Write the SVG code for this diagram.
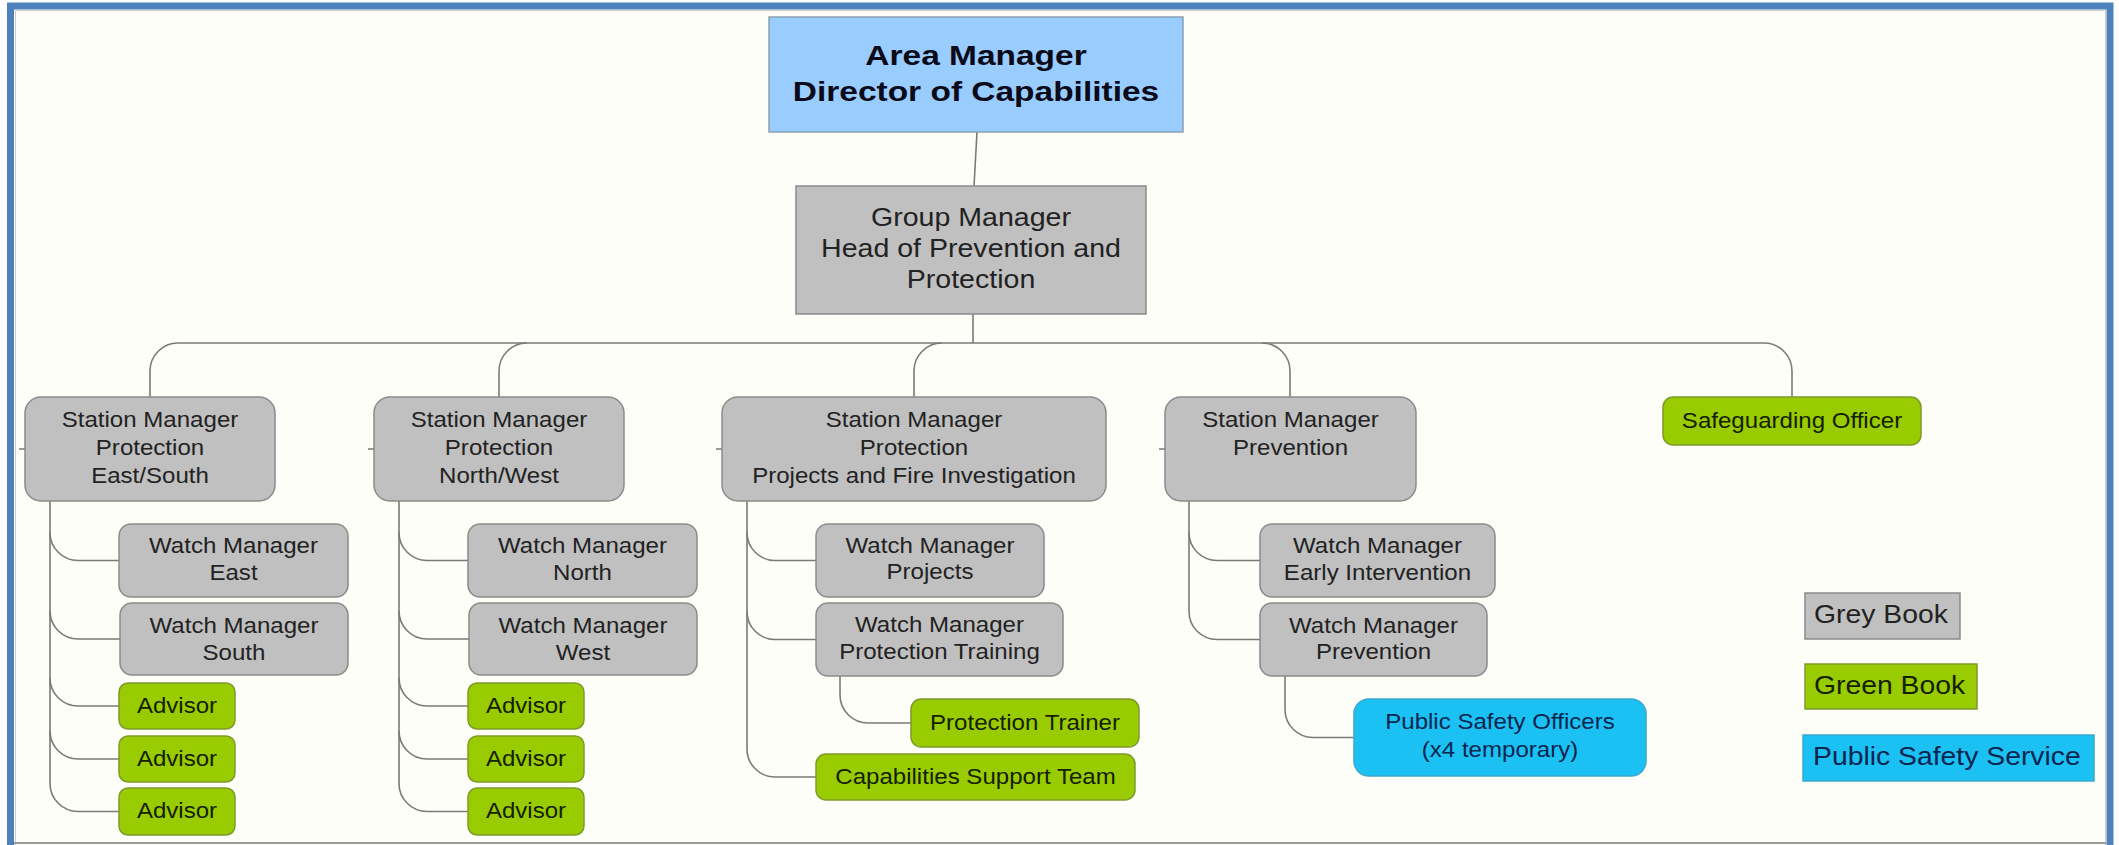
<svg xmlns="http://www.w3.org/2000/svg" width="2119" height="845" viewBox="0 0 2119 845">
<style>
.t{font-family:"Liberation Sans",Arial,sans-serif;font-size:21.5px;fill:#222;text-anchor:middle}
.g{fill:#c0c0c0;stroke:#8a8a8a;stroke-width:1.5}
.gr{fill:#99cc00;stroke:#7d9b2a;stroke-width:1.5}
.cy{fill:#1ac1f2;stroke:#3aa8d0;stroke-width:1.5}
.tg{fill:#142000}
.tc{fill:#0b2550}
.c{fill:none;stroke:#7a7a7a;stroke-width:1.6}
.big{font-size:25.5px}
.leg{font-size:25.3px;text-anchor:start}
.bold{font-weight:bold;font-size:28.5px;fill:#0a0a18}
</style>
<rect x="0" y="0" width="2119" height="845" fill="#ffffff"/>
<rect x="10" y="6" width="2100" height="860" fill="#fefef8"/>
<rect x="15.5" y="10.5" width="2090" height="850" fill="none" stroke="#cfcfcf" stroke-width="1"/>
<line x1="14" y1="843" x2="2106" y2="843" stroke="#9a9a9a" stroke-width="2"/>
<rect x="10.5" y="6" width="2099.5" height="870" fill="none" stroke="#4f81bd" stroke-width="7"/>

<g id="connectors" class="c">
<path d="M977 132 L974 186"/>
<path d="M973 314 V343"/>
<path d="M150 397 V371 A28 28 0 0 1 178 343 H1764 A28 28 0 0 1 1792 371 V397"/>
<path d="M499 397 V371 A28 28 0 0 1 527 343"/>
<path d="M914 397 V371 A28 28 0 0 1 942 343"/>
<path d="M1290 397 V371 A28 28 0 0 0 1262 343"/>
<path d="M19 449 H25 M368 449 H374 M716 449 H722 M1159 449 H1165"/>
<!-- column 1 -->
<path d="M50 501 V783.5 A28 28 0 0 0 78 811.5 H119"/>
<path d="M50 532.5 A28 28 0 0 0 78 560.5 H119"/>
<path d="M50 611 A28 28 0 0 0 78 639 H120"/>
<path d="M50 678 A28 28 0 0 0 78 706 H119"/>
<path d="M50 731 A28 28 0 0 0 78 759 H119"/>
<!-- column 2 -->
<path d="M399 501 V783.5 A28 28 0 0 0 427 811.5 H468"/>
<path d="M399 532.5 A28 28 0 0 0 427 560.5 H468"/>
<path d="M399 611 A28 28 0 0 0 427 639 H469"/>
<path d="M399 678 A28 28 0 0 0 427 706 H468"/>
<path d="M399 731 A28 28 0 0 0 427 759 H468"/>
<!-- column 3 -->
<path d="M747 501 V749 A28 28 0 0 0 775 777 H816"/>
<path d="M747 532.5 A28 28 0 0 0 775 560.5 H816"/>
<path d="M747 611.5 A28 28 0 0 0 775 639.5 H816"/>
<path d="M840 676 V695 A28 28 0 0 0 868 723 H911"/>
<!-- column 4 -->
<path d="M1189 501 V611.5 A28 28 0 0 0 1217 639.5 H1260"/>
<path d="M1189 532.5 A28 28 0 0 0 1217 560.5 H1260"/>
<path d="M1285 676 V709.5 A28 28 0 0 0 1313 737.5 H1354"/>
</g>

<g id="area-manager">
<rect x="769" y="17" width="414" height="115" fill="#99ccff" stroke="#8d9fb3" stroke-width="1.5"/>
<text class="t bold" transform="translate(976 0) scale(1.175 1)"><tspan x="0" y="65">Area Manager</tspan><tspan x="0" y="101">Director of Capabilities</tspan></text>
</g>

<g id="group-manager">
<rect x="796" y="186" width="350" height="128" class="g"/>
<text class="t big" transform="translate(971 0) scale(1.12 1)"><tspan x="0" y="226">Group Manager</tspan><tspan x="0" y="257">Head of Prevention and</tspan><tspan x="0" y="288">Protection</tspan></text>
</g>

<g id="sm-east-south">
<rect x="25" y="397" width="250" height="104" rx="16" class="g"/>
<text class="t" transform="translate(150 0) scale(1.12 1)"><tspan x="0" y="427">Station Manager</tspan><tspan x="0" y="455">Protection</tspan><tspan x="0" y="483">East/South</tspan></text>
</g>
<g id="sm-north-west">
<rect x="374" y="397" width="250" height="104" rx="16" class="g"/>
<text class="t" transform="translate(499 0) scale(1.12 1)"><tspan x="0" y="427">Station Manager</tspan><tspan x="0" y="455">Protection</tspan><tspan x="0" y="483">North/West</tspan></text>
</g>
<g id="sm-projects">
<rect x="722" y="397" width="384" height="104" rx="16" class="g"/>
<text class="t" transform="translate(914 0) scale(1.12 1)"><tspan x="0" y="427">Station Manager</tspan><tspan x="0" y="455">Protection</tspan><tspan x="0" y="483">Projects and Fire Investigation</tspan></text>
</g>
<g id="sm-prevention">
<rect x="1165" y="397" width="251" height="104" rx="16" class="g"/>
<text class="t" transform="translate(1290.5 0) scale(1.12 1)"><tspan x="0" y="427">Station Manager</tspan><tspan x="0" y="455">Prevention</tspan></text>
</g>
<g id="safeguarding">
<rect x="1663" y="397" width="258" height="48" rx="10" class="gr"/>
<text class="t tg" transform="translate(1792 0) scale(1.12 1)" x="0" y="428">Safeguarding Officer</text>
</g>

<g id="wm-east">
<rect x="119" y="524" width="229" height="73" rx="12" class="g"/>
<text class="t" transform="translate(233.5 0) scale(1.12 1)"><tspan x="0" y="553">Watch Manager</tspan><tspan x="0" y="580">East</tspan></text>
</g>
<g id="wm-south">
<rect x="120" y="603" width="228" height="72" rx="12" class="g"/>
<text class="t" transform="translate(234 0) scale(1.12 1)"><tspan x="0" y="633">Watch Manager</tspan><tspan x="0" y="660">South</tspan></text>
</g>
<g id="adv-1a"><rect x="119" y="683" width="116" height="46" rx="9" class="gr"/><text class="t tg" transform="translate(177 0) scale(1.12 1)" x="0" y="713">Advisor</text></g>
<g id="adv-1b"><rect x="119" y="736" width="116" height="46" rx="9" class="gr"/><text class="t tg" transform="translate(177 0) scale(1.12 1)" x="0" y="766">Advisor</text></g>
<g id="adv-1c"><rect x="119" y="788" width="116" height="47" rx="9" class="gr"/><text class="t tg" transform="translate(177 0) scale(1.12 1)" x="0" y="818">Advisor</text></g>

<g id="wm-north">
<rect x="468" y="524" width="229" height="73" rx="12" class="g"/>
<text class="t" transform="translate(582.5 0) scale(1.12 1)"><tspan x="0" y="553">Watch Manager</tspan><tspan x="0" y="580">North</tspan></text>
</g>
<g id="wm-west">
<rect x="469" y="603" width="228" height="72" rx="12" class="g"/>
<text class="t" transform="translate(583 0) scale(1.12 1)"><tspan x="0" y="633">Watch Manager</tspan><tspan x="0" y="660">West</tspan></text>
</g>
<g id="adv-2a"><rect x="468" y="683" width="116" height="46" rx="9" class="gr"/><text class="t tg" transform="translate(526 0) scale(1.12 1)" x="0" y="713">Advisor</text></g>
<g id="adv-2b"><rect x="468" y="736" width="116" height="46" rx="9" class="gr"/><text class="t tg" transform="translate(526 0) scale(1.12 1)" x="0" y="766">Advisor</text></g>
<g id="adv-2c"><rect x="468" y="788" width="116" height="47" rx="9" class="gr"/><text class="t tg" transform="translate(526 0) scale(1.12 1)" x="0" y="818">Advisor</text></g>

<g id="wm-projects">
<rect x="816" y="524" width="228" height="73" rx="12" class="g"/>
<text class="t" transform="translate(930 0) scale(1.12 1)"><tspan x="0" y="553">Watch Manager</tspan><tspan x="0" y="579">Projects</tspan></text>
</g>
<g id="wm-protection-training">
<rect x="816" y="603" width="247" height="73" rx="12" class="g"/>
<text class="t" transform="translate(939.5 0) scale(1.12 1)"><tspan x="0" y="632">Watch Manager</tspan><tspan x="0" y="659">Protection Training</tspan></text>
</g>
<g id="protection-trainer">
<rect x="911" y="699" width="228" height="48" rx="10" class="gr"/>
<text class="t tg" transform="translate(1025 0) scale(1.12 1)" x="0" y="730">Protection Trainer</text>
</g>
<g id="capabilities-support">
<rect x="816" y="754" width="319" height="46" rx="10" class="gr"/>
<text class="t tg" transform="translate(975.5 0) scale(1.12 1)" x="0" y="784">Capabilities Support Team</text>
</g>

<g id="wm-early-intervention">
<rect x="1260" y="524" width="235" height="73" rx="12" class="g"/>
<text class="t" transform="translate(1377.5 0) scale(1.12 1)"><tspan x="0" y="553">Watch Manager</tspan><tspan x="0" y="580">Early Intervention</tspan></text>
</g>
<g id="wm-prevention">
<rect x="1260" y="603" width="227" height="73" rx="12" class="g"/>
<text class="t" transform="translate(1373.5 0) scale(1.12 1)"><tspan x="0" y="633">Watch Manager</tspan><tspan x="0" y="659">Prevention</tspan></text>
</g>
<g id="public-safety-officers">
<rect x="1354" y="699" width="292" height="77" rx="15" class="cy"/>
<text class="t tc" transform="translate(1500 0) scale(1.12 1)"><tspan x="0" y="729">Public Safety Officers</tspan><tspan x="0" y="757">(x4 temporary)</tspan></text>
</g>

<g id="legend-grey">
<rect x="1805" y="593" width="155" height="46" class="g"/>
<text class="t leg" transform="translate(1814 0) scale(1.12 1)" x="0" y="623">Grey Book</text>
</g>
<g id="legend-green">
<rect x="1805" y="664" width="172" height="45" class="gr"/>
<text class="t leg tg" transform="translate(1814 0) scale(1.12 1)" x="0" y="694">Green Book</text>
</g>
<g id="legend-pss">
<rect x="1803" y="735" width="291" height="46" class="cy"/>
<text class="t leg tc" transform="translate(1813 0) scale(1.12 1)" x="0" y="765">Public Safety Service</text>
</g>
</svg>
